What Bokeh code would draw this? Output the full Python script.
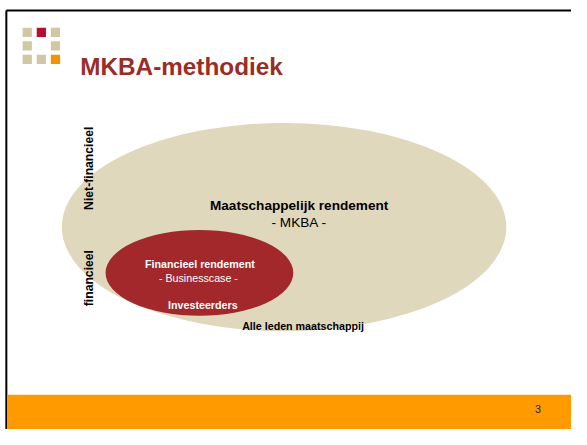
import math
from bokeh.plotting import figure
from bokeh.models import Range1d
from bokeh.core.properties import value
from bokeh.embed import file_html
from bokeh.resources import INLINE

# ---- data ----
title_text = "MKBA-methodiek"
page_number = "3"

logo_x = [27.5, 42, 56.5, 27.5, 56.5, 27.5, 42, 56.5]
logo_y = [33, 33, 33, 47, 47, 61, 61, 61]
logo_colors = ["#CFC8A2", "#B3102F", "#CFC8A2", "#CFC8A2", "#CFC8A2",
               "#CFC8A2", "#CFC8A2", "#F39200"]

ellipse_x = [291.5, 204.5]
ellipse_y = [235, 282.5]
ellipse_w = [457, 193]
ellipse_h = [216, 89]
ellipse_colors = ["#E0D8BD", "#A2282B"]

labels = ["Maatschappelijk rendement", "- MKBA -", "Financieel rendement",
          "-  Businesscase -", "Investeerders", "Alle leden maatschappij"]
label_x = [307, 307, 205, 205, 208, 311]
label_y = [212.5, 230, 273.5, 287.5, 316, 337.5]
label_size = ["13.6px", "13.6px", "10.7px", "10.7px", "10.7px", "10.7px"]
label_style = ["bold", "normal", "bold", "normal", "bold", "bold"]
label_color = ["#000000", "#000000", "#FFFFFF", "#FFFFFF", "#FFFFFF", "#000000"]

side_labels = ["Niet-financieel", "financieel"]
side_x = [90.5, 90.5]
side_y = [174, 288]

p = figure(width=571, height=429, output_backend="svg", toolbar_location=None,
           x_range=Range1d(0, 587), y_range=Range1d(445, 0),
           x_axis_location=None, y_axis_location=None, min_border=0)
p.grid.visible = False
p.outline_line_color = None
p.background_fill_color = "white"
p.border_fill_color = "white"

# slide frame
p.segment(x0=[6, 6], y0=[10.5, 10.5], x1=[587, 6], y1=[10.5, 445],
          line_color="black", line_width=2)
# footer band
p.quad(left=[7], right=[587], top=[409], bottom=[445],
       fill_color="#FF9A00", line_color=None)
p.text(x=[552.5], y=[424], text=[page_number], text_font=value("Liberation Sans"),
       text_font_size="10.7px", text_align="center", text_baseline="alphabetic",
       text_color="#222222")

# logo
p.rect(x=logo_x, y=logo_y, width=9.5, height=9.5, fill_color=logo_colors, line_color=None)

# title
p.text(x=[82], y=[68.5], text=[title_text], text_font=value("Liberation Sans"),
       text_font_size="24.3px", text_font_style="bold", text_color="#9A2D27",
       text_align="left", text_baseline="alphabetic")

# ellipses
p.ellipse(x=ellipse_x, y=ellipse_y, width=ellipse_w, height=ellipse_h,
          fill_color=ellipse_colors, line_color=None)

for t, x, y, s, st, c in zip(labels, label_x, label_y, label_size, label_style, label_color):
    p.text(x=[x], y=[y], text=[t], text_font=value("Liberation Sans"),
           text_font_size=s, text_font_style=st, text_color=c,
           text_align="center", text_baseline="alphabetic")

p.text(x=side_x, y=side_y, text=side_labels, angle=math.pi / 2,
       text_font=value("Liberation Sans"), text_font_size="12.2px",
       text_font_style="bold", text_color="#000000",
       text_align="center", text_baseline="alphabetic")

open("out.html", "w").write(file_html(p, INLINE))
